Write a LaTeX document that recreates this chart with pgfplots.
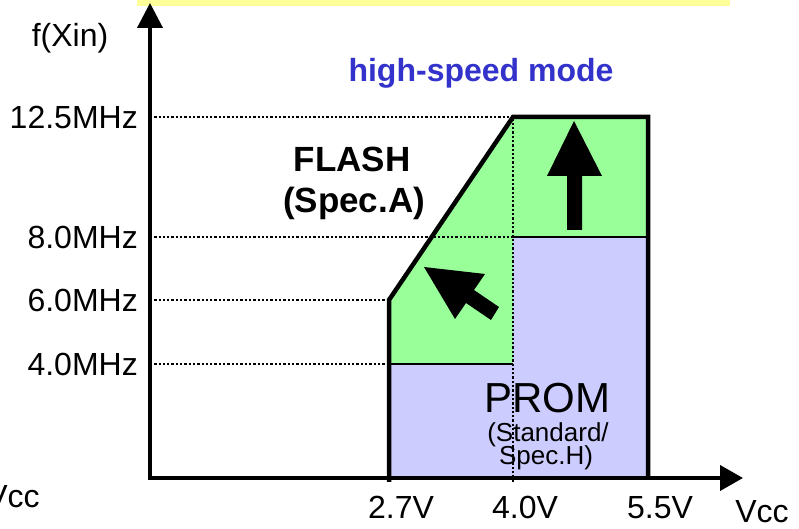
\documentclass[border=0pt]{standalone}
\usepackage{fontspec}
\setmainfont{Liberation Sans}
\usepackage{pgfplots}
\pgfplotsset{compat=1.18}
\usetikzlibrary{arrows.meta}
\definecolor{flashgreen}{HTML}{99FF99}
\definecolor{promblue}{HTML}{CCCCFF}
\definecolor{modeblue}{HTML}{3333CC}
\definecolor{bandyellow}{HTML}{FFFF99}
\newcommand\labelfont{\fontsize{32}{38}\selectfont}
\newcommand\flashfont{\fontsize{35}{40}\selectfont\bfseries}
\newcommand\promfont{\fontsize{42}{48}\selectfont}
\newcommand\specfont{\fontsize{26}{30}\selectfont}
\pgfplotsset{dotline/.style={line width=2.7pt, dash pattern=on 2.3pt off 2pt}}
\begin{document}
\begin{tikzpicture}
\begin{axis}[
    x=1pt, y=1pt,
    xmin=0, xmax=593, ymin=0, ymax=475,
    axis lines*=left,
    axis on top,
    clip=false,
    axis line style={line width=4pt, line cap=rect},
    x axis line style={-{Triangle[width=25pt,length=23pt]}},
    y axis line style={-{Triangle[width=25pt,length=25pt]}},
    xtick={239,363,498}, xticklabels={2.7V,4.0V,5.5V},
    ytick={114,178,241,361}, yticklabels={4.0MHz,6.0MHz,8.0MHz,12.5MHz},
    major tick length=0pt,
    tick style={draw=none},
    ticklabel style={font=\labelfont},
    xticklabel style={anchor=base, inner sep=0pt, yshift=-40pt, xshift=12pt},
    yticklabel style={anchor=east, inner sep=0pt, xshift=-12pt},
  ]
  % yellow band at the top edge
  \addplot[draw=none, fill=bandyellow] coordinates {(-13,472) (580,472) (580,480) (-13,480)} -- cycle;

  % PROM and FLASH areas
  \addplot[draw=none, fill=promblue] coordinates {(239,0) (239,114) (363,114) (363,241) (498,241) (498,0)} -- cycle;
  \addplot[draw=none, fill=flashgreen] coordinates {(239,114) (239,178) (363,361) (498,361) (498,241) (363,241) (363,114)} -- cycle;
  \addplot[line width=1.2pt] coordinates {(239,114) (363,114)};
  \addplot[line width=1.2pt] coordinates {(363,241) (498,241)};

  \node[anchor=base, font=\promfont] at (axis cs:397,65) {PROM};
  \node[anchor=base, font=\specfont] at (axis cs:398,36) {(Standard/};
  \node[anchor=base, font=\specfont] at (axis cs:396,13) {Spec.H)};

  % guide lines
  \addplot[dotline] coordinates {(0,114) (239,114)};
  \addplot[dotline] coordinates {(0,178) (239,178)};
  \addplot[dotline] coordinates {(0,241) (363,241)};
  \addplot[dotline] coordinates {(0,361) (363,361)};
  \addplot[dotline] coordinates {(363,-4) (363,361)};

  % outline of the operating range
  \addplot[line width=4.5pt] coordinates {(239,-4) (239,178) (363,361) (498,361) (498,0)};

  % block arrows
  \addplot[fill=black, draw=none] coordinates {(424,357) (452,302) (432,302) (432,248) (417,248) (417,302) (397,302)} -- cycle;
  \addplot[fill=black, draw=none] coordinates {(274,211) (335,204) (324,188) (349,171) (341,158) (316,175) (305,159)} -- cycle;

  \node[anchor=base, font=\flashfont] at (axis cs:202,306) {FLASH};
  \node[anchor=base, font=\flashfont] at (axis cs:204,265) {(Spec.A)};
  \node[anchor=base, font=\labelfont\bfseries, text=modeblue] at (axis cs:331,396) {high-speed mode};

  \node[anchor=base, font=\labelfont] at (axis cs:-80,431) {f(Xin)};
  \node[anchor=base, font=\labelfont] at (axis cs:612,-44) {Vcc};
  \node[anchor=base, font=\labelfont] at (axis cs:-137,-29) {Vcc};

  \coordinate (bl) at (axis cs:-150,-51);
  \coordinate (tr) at (axis cs:649,478);
\end{axis}
\pgfresetboundingbox
\useasboundingbox (bl) rectangle (tr);
\end{tikzpicture}
\end{document}
